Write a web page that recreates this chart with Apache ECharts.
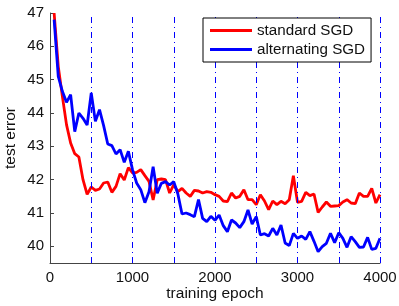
<!DOCTYPE html>
<html>
<head>
<meta charset="utf-8">
<script src="https://cdn.jsdelivr.net/npm/echarts@6/dist/echarts.min.js"></script>
<style>
html,body{margin:0;padding:0;background:#fff;}
#main{width:399px;height:306px;}
</style>
</head>
<body>
<div id="main"></div>
<script>
// sampled every 50 epochs
var epochs = [];
for (var e = 50; e <= 4000; e += 50) { epochs.push(e); }

var standardSgd = [
	47.0, 45.4, 44.5, 43.65, 43.1, 42.78, 42.68, 42.0, 41.56, 41.78,
	41.68, 41.72, 41.9, 41.93, 41.62, 41.8, 42.18, 41.99, 42.36, 42.2,
	42.22, 42.3, 42.12, 41.95, 41.39, 42.0, 42.02, 42.0, 41.6, 41.85,
	41.64, 41.74, 41.6, 41.5, 41.68, 41.66, 41.6, 41.64, 41.62, 41.55,
	41.5, 41.36, 41.34, 41.6, 41.45, 41.5, 41.7, 41.4, 41.4, 41.25,
	41.55, 41.36, 41.1, 41.36, 41.25, 41.35, 41.28, 41.4, 42.12, 41.32,
	41.35, 41.62, 41.52, 41.57, 41.02, 41.18, 41.33, 41.2, 41.21, 41.22,
	41.33, 41.4, 41.3, 41.28, 41.6, 41.5, 41.5, 41.74, 41.3, 41.55
];

var alternatingSgd = [
	46.8, 45.1, 44.65, 44.32, 44.55, 43.44, 44.0, 43.84, 43.64, 44.6,
	43.75, 44.1, 43.62, 43.07, 43.02, 42.77, 42.9, 42.52, 42.85, 42.3,
	41.9, 41.7, 41.31, 41.64, 42.39, 41.59, 41.89, 41.94, 41.84, 41.94,
	41.57, 40.97, 41.0, 40.95, 40.89, 41.4, 40.84, 40.74, 40.9, 40.78,
	40.94, 40.62, 40.44, 40.79, 40.7, 40.56, 40.74, 41.09, 40.67, 40.89,
	40.34, 40.38, 40.31, 40.54, 40.34, 40.64, 40.1, 40.02, 40.39, 40.24,
	40.31, 40.21, 40.44, 40.15, 39.84, 39.99, 40.09, 40.39, 40.11, 40.41,
	40.24, 39.97, 40.29, 40.14, 39.97, 39.98, 40.27, 39.91, 39.94, 40.24
];

var switchEpochs = [500, 1000, 1500, 2000, 2500, 3000, 3500, 4000];
var yTicks = [40, 41, 42, 43, 44, 45, 46, 47];

function pairs(vals) {
	var out = [];
	for (var i = 0; i < vals.length; i++) { out.push([epochs[i], vals[i]]); }
	return out;
}

var font = "'Liberation Sans', Arial, sans-serif";
var chart = echarts.init(document.getElementById('main'));
chart.setOption({
	animation: false,
	backgroundColor: '#fff',
	grid: { left: 50, right: 19, top: 13, bottom: 43, containLabel: false, outerBoundsMode: 'none' },
	legend: {
		data: ['standard SGD', 'alternating SGD'],
		orient: 'vertical',
		left: 203, top: 18,
		z: 20,
		padding: [4, 6, 4, 7],
		itemGap: 2,
		itemWidth: 42, itemHeight: 3,
		icon: 'rect',
		backgroundColor: '#fff',
		borderColor: '#000', borderWidth: 1, borderRadius: 0,
		textStyle: { fontFamily: font, fontSize: 15.2, color: '#111', lineHeight: 17 }
	},
	xAxis: {
		type: 'value',
		min: 0, max: 4000, interval: 1000,
		name: 'training epoch',
		nameLocation: 'middle',
		nameGap: 23,
		nameMoveOverlap: false,
		nameTextStyle: { fontFamily: font, fontSize: 15.5, color: '#111' },
		axisLine: { lineStyle: { color: '#444', width: 1 } },
		axisTick: { inside: true, length: 4, lineStyle: { color: '#444' } },
		axisLabel: {
			fontFamily: font, fontSize: 15, color: '#111', margin: 7,
			formatter: function (v) { return String(v); }
		},
		splitLine: { show: false }
	},
	yAxis: {
		type: 'value',
		min: 39.5, max: 47,
		name: 'test error',
		nameLocation: 'middle',
		nameGap: 31,
		nameMoveOverlap: false,
		nameTextStyle: { fontFamily: font, fontSize: 15.5, color: '#111' },
		axisLine: { show: true, lineStyle: { color: '#444', width: 1 } },
		axisTick: { show: true, inside: true, length: 4, customValues: yTicks, lineStyle: { color: '#444' } },
		axisLabel: { fontFamily: font, fontSize: 15, color: '#111', margin: 6, customValues: yTicks },
		splitLine: { show: false }
	},
	series: [
		{
			name: 'switch',
			type: 'line',
			data: [],
			silent: true,
			markLine: {
				silent: true,
				symbol: ['none', 'none'],
				label: { show: false },
				lineStyle: { color: '#0000ff', width: 1, type: [6, 4, 1, 4], opacity: 1 },
				data: switchEpochs.map(function (v) { return { xAxis: v }; })
			}
		},
		{
			name: 'standard SGD',
			type: 'line',
			data: pairs(standardSgd),
			symbol: 'none',
			color: '#ff0000',
			lineStyle: { width: 2.8 }
		},
		{
			name: 'alternating SGD',
			type: 'line',
			data: pairs(alternatingSgd),
			symbol: 'none',
			color: '#0000ff',
			lineStyle: { width: 2.8 }
		}
	]
});
</script>
</body>
</html>
